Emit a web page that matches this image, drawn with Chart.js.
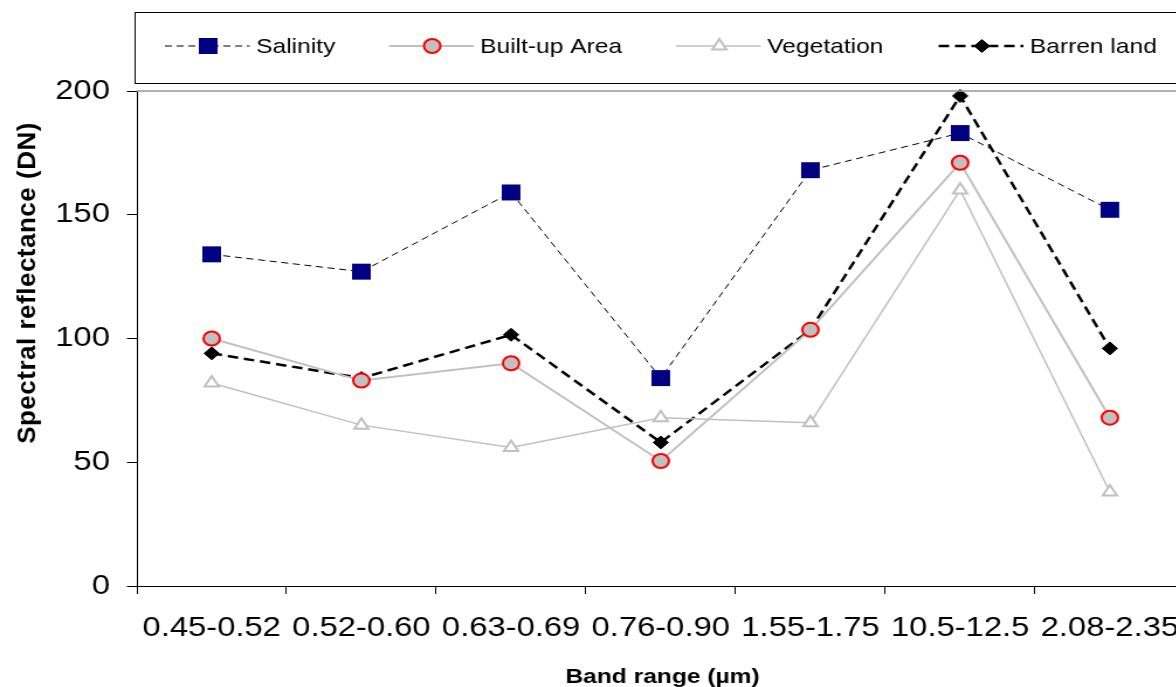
<!DOCTYPE html>
<html>
<head>
<meta charset="utf-8">
<title>Spectral reflectance</title>
<script src="https://cdn.jsdelivr.net/npm/chart.js@4.4.1/dist/chart.umd.min.js"></script>
<style>
    html, body { margin: 0; padding: 0; background: #fff; overflow: hidden; }
    /* the original figure is stretched sideways, so the chart is drawn narrower and widened */
    #wrap { position: relative; width: 1026px; height: 687px; transform: scaleX(1.1696); transform-origin: 0 0; }
</style>
</head>
<body>
<div id="wrap"><canvas id="spectralChart"></canvas></div>
<script>
const bands = ["0.45-0.52", "0.52-0.60", "0.63-0.69", "0.76-0.90", "1.55-1.75", "10.5-12.5", "2.08-2.35"];
const salinity = [134, 127, 159, 84, 168, 183, 152];
const builtUp = [100, 83, 90, 50.5, 103.5, 171, 68];
const vegetation = [82, 65, 56, 68, 66, 160, 38];
const barren = [94, 84, 101.5, 58, 103.5, 198, 96];
const yTicks = [0, 50, 100, 150, 200];

const FONT = "'Liberation Sans', Arial, Helvetica, sans-serif";
const STRETCH = 1.1696;

// legend box + axis titles, drawn the way the original sheet has them
const decorPlugin = {
    id: "decor",
    afterDraw(chart) {
        const ctx = chart.ctx;
        const ca = chart.chartArea;
        ctx.save();

        // gray top edge of the plot
        ctx.strokeStyle = "#999";
        ctx.lineWidth = 1.5;
        ctx.beginPath();
        ctx.moveTo(ca.left, ca.top);
        ctx.lineTo(chart.width, ca.top);
        ctx.stroke();

        // legend frame
        ctx.strokeStyle = "#000";
        ctx.lineWidth = 1;
        ctx.strokeRect(115.5, 12.5, 1000, 71);

        const starts = [141, 332.5, 578, 802.5];
        const ly = 46;
        chart.data.datasets.forEach((ds, i) => {
            const x0 = starts[i];
            ctx.save();
            ctx.strokeStyle = ds.borderColor;
            ctx.lineWidth = ds.borderWidth;
            ctx.setLineDash(ds.borderDash || []);
            ctx.beginPath();
            ctx.moveTo(x0, ly);
            ctx.lineTo(x0 + 72.5, ly);
            ctx.stroke();
            ctx.setLineDash([]);
            ctx.fillStyle = ds.pointBackgroundColor;
            ctx.strokeStyle = ds.pointBorderColor;
            ctx.lineWidth = ds.pointBorderWidth;
            Chart.helpers.drawPoint(ctx, {
                pointStyle: ds.pointStyle,
                radius: ds.pointRadius,
                rotation: 0,
                borderWidth: ds.pointBorderWidth
            }, x0 + 37, ly);
            ctx.restore();

            ctx.fillStyle = "#000";
            ctx.font = "21px " + FONT;
            ctx.textAlign = "left";
            ctx.textBaseline = "middle";
            ctx.fillText(ds.label, x0 + 78, ly + 1);
        });

        // axis titles
        ctx.fillStyle = "#000";
        ctx.font = "bold 21px " + FONT;
        ctx.textAlign = "center";
        ctx.textBaseline = "alphabetic";
        ctx.fillText("Band range (\u00b5m)", (ca.left + ca.right) / 2 + 1.5, 683);

        ctx.translate(29.5, 283);
        ctx.scale(1 / STRETCH, 1);
        ctx.rotate(-Math.PI / 2);
        ctx.font = "bold 26px " + FONT;
        ctx.letterSpacing = "0.5px";
        ctx.fillText("Spectral reflectance (DN)", 0, 0);
        ctx.restore();
    }
};

const ctx = document.getElementById("spectralChart").getContext("2d");

const myChart = new Chart(ctx, {
    type: "line",
    data: {
        labels: bands,
        datasets: [
            {
                label: "Salinity",
                data: salinity,
                borderColor: "#000000",
                borderWidth: 1,
                borderDash: [6, 4],
                pointStyle: "rect",
                pointRadius: 11.3,
                pointBackgroundColor: "#000080",
                pointBorderColor: "#000080",
                pointBorderWidth: 0,
                tension: 0
            },
            {
                label: "Built-up Area",
                data: builtUp,
                borderColor: "#c0c0c0",
                borderWidth: 2,
                pointStyle: "circle",
                pointRadius: 7,
                pointBackgroundColor: "#c0c0c0",
                pointBorderColor: "#ff0000",
                pointBorderWidth: 2,
                tension: 0
            },
            {
                label: "Vegetation",
                data: vegetation,
                borderColor: "#c0c0c0",
                borderWidth: 1.5,
                pointStyle: "triangle",
                pointRadius: 7,
                pointBackgroundColor: "#ffffff",
                pointBorderColor: "#c0c0c0",
                pointBorderWidth: 2,
                tension: 0
            },
            {
                label: "Barren land",
                data: barren,
                borderColor: "#000000",
                borderWidth: 2.5,
                borderDash: [9, 5],
                pointStyle: "rectRot",
                pointRadius: 6.5,
                pointBackgroundColor: "#000000",
                pointBorderColor: "#000000",
                pointBorderWidth: 1,
                tension: 0
            }
        ]
    },
    options: {
        responsive: true,
        maintainAspectRatio: false,
        animation: false,
        clip: false,
        layout: { padding: { top: 91, right: 13, left: 0, bottom: 0 } },
        scales: {
            x: {
                offset: true,
                afterFit: (s) => { s.height = 101; },
                grid: {
                    offset: true,
                    drawOnChartArea: false,
                    drawTicks: true,
                    tickLength: 8,
                    color: "#000"
                },
                border: { display: true, color: "#000", width: 1 },
                ticks: {
                    color: "#000",
                    font: { family: FONT, size: 28 },
                    padding: 17,
                    autoSkip: false,
                    maxRotation: 0
                }
            },
            y: {
                min: 0,
                max: 200,
                afterFit: (s) => { s.width = 117; },
                afterBuildTicks: (s) => { s.ticks = yTicks.map(v => ({ value: v })); },
                grid: {
                    drawOnChartArea: false,
                    drawTicks: true,
                    tickLength: 8.5,
                    color: "#000"
                },
                border: { display: true, color: "#000", width: 1 },
                ticks: {
                    color: "#000",
                    font: { family: FONT, size: 28 },
                    padding: 14.5
                }
            }
        },
        plugins: {
            legend: { display: false },
            tooltip: { enabled: false }
        }
    },
    plugins: [decorPlugin]
});
</script>
</body>
</html>
